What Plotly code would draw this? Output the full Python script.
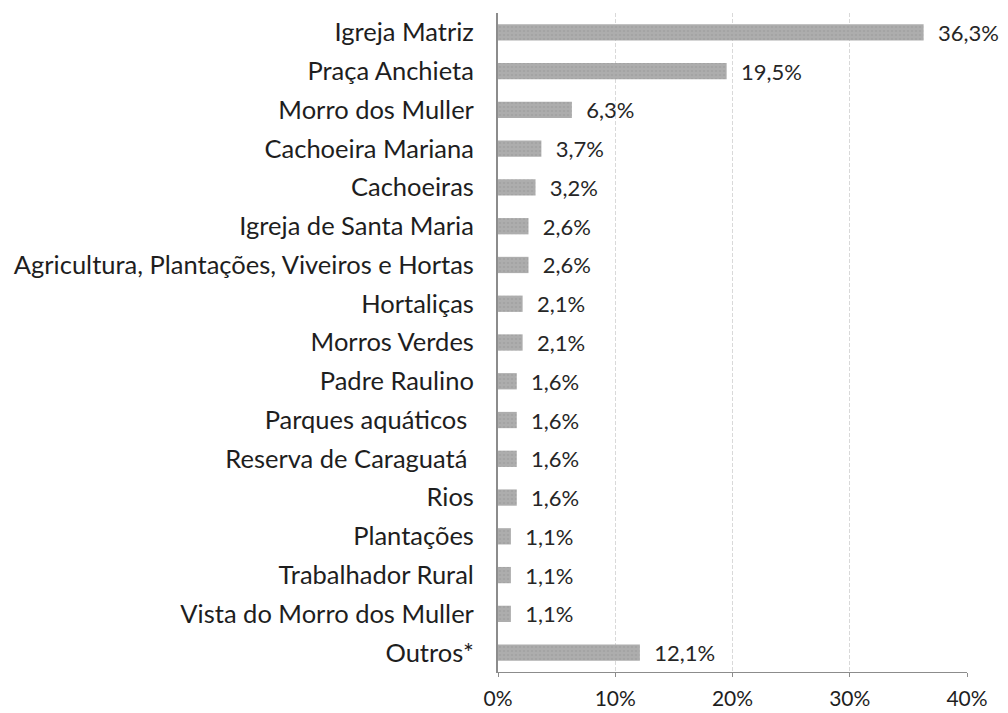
import plotly.graph_objects as go

categories = [
    "Igreja Matriz", "Praça Anchieta", "Morro dos Muller", "Cachoeira Mariana",
    "Cachoeiras", "Igreja de Santa Maria", "Agricultura, Plantações, Viveiros e Hortas",
    "Hortaliças", "Morros Verdes", "Padre Raulino", "Parques aquáticos ",
    "Reserva de Caraguatá ", "Rios", "Plantações", "Trabalhador Rural",
    "Vista do Morro dos Muller", "Outros*",
]
values = [36.3, 19.5, 6.3, 3.7, 3.2, 2.6, 2.6, 2.1, 2.1, 1.6, 1.6, 1.6, 1.6, 1.1, 1.1, 1.1, 12.1]
tick_vals = [0, 10, 20, 30, 40]
tick_text = ["0%", "10%", "20%", "30%", "40%"]

LABEL_FONT = dict(family="Lato", size=25.5, color="#1e1e1e")
VALUE_FONT = dict(family="Lato", size=22, color="#262626")
TICK_FONT = dict(family="Lato", size=21, color="#1e1e1e")

# page body has an 8px margin, so the figure is shifted by it
fig = go.Figure(go.Bar(
    x=values,
    y=categories,
    orientation="h",
    width=0.42,
    marker=dict(
        color="#a6a6a6",
        line=dict(width=0),
        pattern=dict(shape=".", fgcolor="#999999", bgcolor="#adadad", size=4, solidity=0.3),
    ),
    text=["\u00a0\u00a0" + f"{v:.1f}%".replace(".", ",") for v in values],
    textposition="outside",
    constraintext="none",
    textfont=VALUE_FONT,
    cliponaxis=False,
))

fig.update_layout(
    width=1000, height=705,
    margin=dict(l=490, r=41, t=5, b=41),
    plot_bgcolor="white", paper_bgcolor="white",
    font=LABEL_FONT,
    showlegend=False,
)
fig.update_xaxes(
    range=[0, 40], automargin=False,
    tickvals=tick_vals, ticktext=tick_text,
    showgrid=True, gridcolor="#d9d9d9", griddash="4px,2px", gridwidth=1,
    showline=True, linecolor="#8c8c8c", linewidth=1,
    ticks="outside", ticklen=4, tickcolor="#8c8c8c",
    ticklabelstandoff=4,
    zeroline=False,
    tickfont=TICK_FONT,
)
fig.update_yaxes(
    categoryorder="array", categoryarray=categories, autorange="reversed",
    automargin=False,
    showline=True, linecolor="#8c8c8c", linewidth=2,
    ticks="", ticklabelstandoff=17,
    tickfont=LABEL_FONT,
)

fig.write_html("out.html")
